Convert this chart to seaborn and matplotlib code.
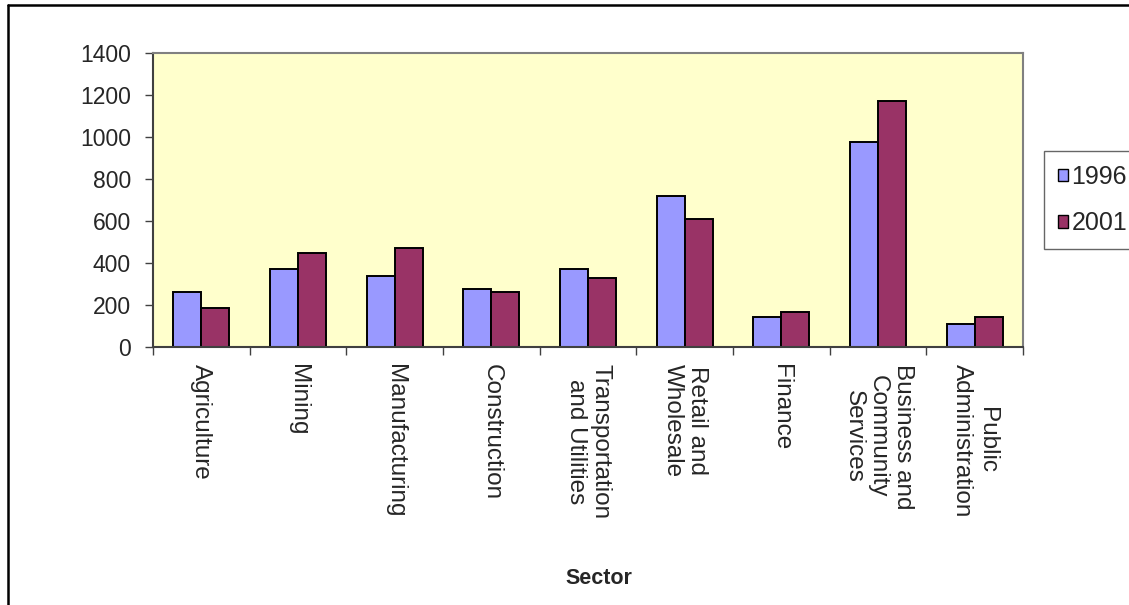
import numpy as np
import pandas as pd
import matplotlib
matplotlib.use("Agg")
import matplotlib.pyplot as plt
from matplotlib.patches import Patch
from matplotlib.lines import Line2D
import seaborn as sns

# ---- data ----
sectors = ["Agriculture", "Mining", "Manufacturing", "Construction",
           "Transportation\nand Utilities", "Retail and\nWholesale", "Finance",
           "Business and\nCommunity\nServices", "Public\nAdministration"]
values_1996 = [262, 370, 338, 274, 371, 719, 144, 978, 110]
values_2001 = [184, 446, 470, 263, 328, 610, 165, 1173, 144]
years = ["1996", "2001"]
yticks = [0, 200, 400, 600, 800, 1000, 1200, 1400]

colors = {"1996": "#9999FF", "2001": "#993366"}

df = pd.DataFrame({
    "Sector": sectors * 2,
    "Value": values_1996 + values_2001,
    "Year": [years[0]] * len(sectors) + [years[1]] * len(sectors),
})

sns.set_style("white")
plt.rcParams["font.family"] = ["Liberation Sans", "DejaVu Sans"]

W, H = 1129, 605
fig = plt.figure(figsize=(W / 100, H / 100), dpi=100)
ax = fig.add_axes([153 / W, 1 - 347 / H, (1023 - 153) / W, (347 - 53) / H])
ax.set_facecolor("#FFFFCC")

sns.barplot(data=df, x="Sector", y="Value", hue="Year", order=sectors,
            hue_order=years, palette=colors, width=0.58, dodge=True,
            edgecolor="black", linewidth=1.4, saturation=1, legend=False,
            ax=ax)

ax.set_ylim(0, 1400)
ax.set_yticks(yticks)
ax.set_yticklabels([str(v) for v in yticks], fontsize=16.5)
ax.set_xlim(-0.5, len(sectors) - 0.5)

# category ticks between groups, labels at group centres
ax.set_xticks(np.arange(-0.5, len(sectors), 1.0))
ax.set_xticklabels([])
ax.set_xticks(np.arange(len(sectors)), minor=True)
ax.set_xticklabels(sectors, minor=True, rotation=-90, fontsize=17.5,
                   ha="center", va="top", multialignment="center",
                   linespacing=1.15)
ax.tick_params(axis="x", which="major", direction="out", length=6,
               width=1.0, color="#404040", bottom=True)
ax.tick_params(axis="x", which="minor", length=0, pad=12)
ax.tick_params(axis="y", direction="out", length=6, width=1.0,
               color="#404040", left=True, pad=10)

for side in ["top", "right"]:
    ax.spines[side].set_color("#808080")
    ax.spines[side].set_linewidth(1.5)
for side in ["left", "bottom"]:
    ax.spines[side].set_color("#404040")
    ax.spines[side].set_linewidth(1.5)
ax.grid(False)

ax.set_ylabel("")
ax.set_xlabel("Sector", fontsize=15.5, fontweight="bold", va="center")
ax.xaxis.set_label_coords((599 - 153) / (1023 - 153), (347 - 579) / (347 - 53))

# legend
handles = [Patch(facecolor=colors[y], edgecolor="black", linewidth=1.0, label=y)
           for y in years]
leg = fig.legend(handles=handles, loc="upper left",
                 bbox_to_anchor=(1044 / W, 1 - 151 / H), fontsize=18,
                 frameon=True, fancybox=False, handlelength=0.4,
                 handleheight=0.4, handletextpad=0.15, borderpad=0.55,
                 labelspacing=0.9, borderaxespad=0)
leg.get_frame().set_edgecolor("#404040")
leg.get_frame().set_linewidth(1.0)

# outer chart border (top and left edges visible)
fig.add_artist(Line2D([8 / W, 1.0], [1 - 5 / H, 1 - 5 / H], color="black",
                      linewidth=1.8, transform=fig.transFigure))
fig.add_artist(Line2D([8 / W, 8 / W], [0.0, 1 - 5 / H], color="black",
                      linewidth=1.8, transform=fig.transFigure))

fig.savefig("out.png", dpi=100)
